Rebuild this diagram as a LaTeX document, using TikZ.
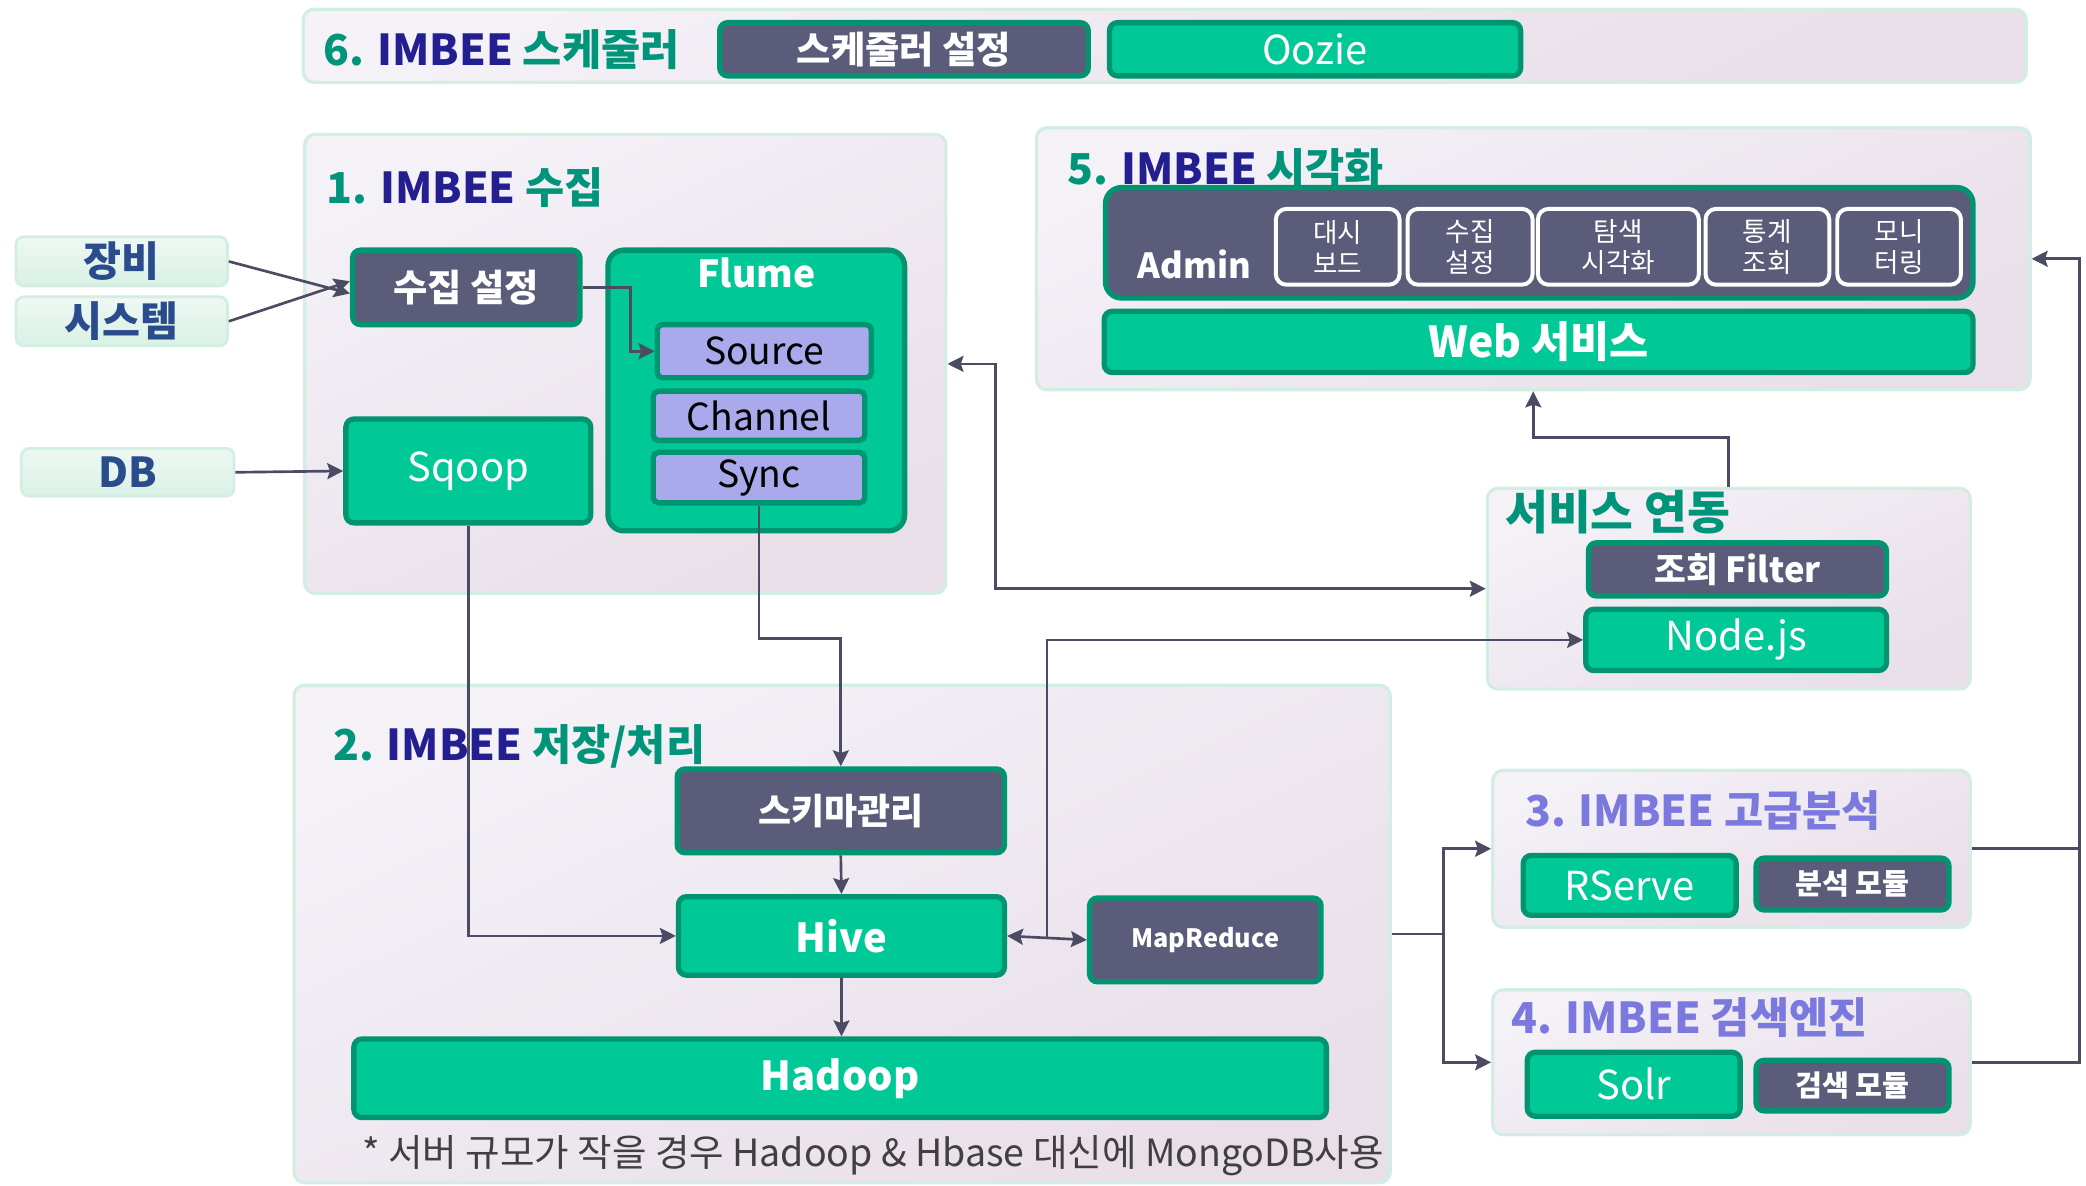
\documentclass[tikz,border=0pt]{standalone}
\usepackage{fontspec}
\setmainfont{Noto Sans CJK KR}
\usepackage{xcolor}
\definecolor{grn00}{HTML}{00C896}
\definecolor{grn01}{HTML}{009470}
\definecolor{dark00}{HTML}{5B5C7A}
\definecolor{lav00}{HTML}{A9A9EC}
\definecolor{lav01}{HTML}{7B79DE}
\definecolor{navy00}{HTML}{231F91}
\definecolor{teal00}{HTML}{00957A}
\definecolor{line00}{HTML}{4B4B63}
\definecolor{note00}{HTML}{404040}
\definecolor{sec00}{HTML}{F4F1F7}
\definecolor{sec01}{HTML}{E9DFE9}
\definecolor{secb}{HTML}{D2EEE2}
\definecolor{in00}{HTML}{EEF8F3}
\definecolor{in01}{HTML}{D9F1E5}
\definecolor{intxt}{HTML}{2B4C8C}
\usepackage{tikz}
\usetikzlibrary{calc}
\usetikzlibrary{positioning}
\usetikzlibrary{arrows.meta}
\tikzstyle{section} = [rectangle, rounded corners=4pt, draw=secb, line width=1.2pt, top color=sec00, bottom color=sec01, shading angle=25]
\tikzstyle{title} = [anchor=west, inner sep=0pt, text=teal00, font=\bfseries\fontsize{16pt}{18pt}\selectfont]
\tikzstyle{grn_box} = [rectangle, rounded corners=3pt, inner sep=1pt, draw=grn01, line width=2pt, fill=grn00, text=white, font=\fontsize{15pt}{17pt}\selectfont]
\tikzstyle{dark_box} = [rectangle, rounded corners=3pt, inner sep=1pt, draw=grn01, line width=2pt, fill=dark00, text=white, font=\bfseries\fontsize{13pt}{15pt}\selectfont]
\tikzstyle{sub_box} = [rectangle, rounded corners=2pt, inner sep=1pt, draw=grn01, line width=2pt, fill=lav00, text=black, font=\fontsize{14pt}{16pt}\selectfont]
\tikzstyle{menu_box} = [rectangle, rounded corners=4pt, inner sep=1pt, draw=white, line width=1.5pt, fill=dark00, text=white, align=center, font=\fontsize{10pt}{11.5pt}\selectfont]
\tikzstyle{in_box} = [rectangle, rounded corners=3pt, inner sep=1pt, draw=secb, line width=1pt, top color=in00, bottom color=in01, text=intxt, font=\bfseries\fontsize{15.5pt}{17pt}\selectfont]
\tikzstyle{conn} = [line width=1pt, line00, -{Stealth[length=6pt, width=6pt, inset=1pt]}]
\tikzstyle{conn2} = [conn, {Stealth[length=6pt, width=6pt, inset=1pt]}-{Stealth[length=6pt, width=6pt, inset=1pt]}]

\begin{document}
\begin{tikzpicture}[x=0.5pt, y=-0.5pt]
        \useasboundingbox (0,0) rectangle (1568,891);
        % sections
        \node (s6)[section, minimum width=647.5pt, minimum height=27.5pt] at (875.5,34.5) {};
        \node (s1)[section, minimum width=241pt, minimum height=172.5pt] at (470,273.5) {};
        \node (s5)[section, minimum width=373.5pt, minimum height=98.5pt] at (1152.5,194.5) {};
        \node (s7)[section, minimum width=181.5pt, minimum height=75.5pt] at (1299.5,442.5) {};
        \node (s2)[section, minimum width=412pt, minimum height=187pt] at (633,702) {};
        \node (s3)[section, minimum width=179.5pt, minimum height=59pt] at (1301.5,638) {};
        \node (s4)[section, minimum width=179.5pt, minimum height=54.5pt] at (1301.5,798.5) {};
        \node (t6)[title] at (243,37) {6. \textcolor{navy00}{IMBEE} 스케줄러};
        \node (t1)[title] at (245,141) {1. \textcolor{navy00}{IMBEE} 수집};
        \node (t5)[title] at (802,127) {5. \textcolor{navy00}{IMBEE} 시각화};
        \node (t7)[title, font=\bfseries\fontsize{17.5pt}{19pt}\selectfont] at (1131,385) {서비스 연동};
        \node (t2)[title] at (250,561) {2. \textcolor{navy00}{IMBEE} 저장/처리};
        \node (t3)[title, text=lav01] at (1146,609) {3. IMBEE 고급분석};
        \node (t4)[title, text=lav01] at (1136,765) {4. IMBEE 검색엔진};
        % 6. scheduler
        \node (sch_set)[dark_box, minimum width=138.5pt, minimum height=20pt, font=\bfseries\fontsize{14pt}{16pt}\selectfont] at (679.5,37) {스케줄러 설정};
        \node (oozie)[grn_box, minimum width=154.5pt, minimum height=20pt] at (988.5,37) {Oozie};
        % inputs
        \node (dev)[in_box, minimum width=79.5pt, minimum height=18.5pt] at (91.5,196.5) {장비};
        \node (sys)[in_box, minimum width=79.5pt, minimum height=18.5pt, below=3pt of dev] {시스템};
        \node (db)[in_box, minimum width=80pt, minimum height=18pt] at (96,355) {DB};
        % 1. collect
        \node (col_set)[dark_box, minimum width=85.5pt, minimum height=28pt, font=\bfseries\fontsize{14pt}{16pt}\selectfont] at (350.5,216) {수집 설정};
        \node (flume)[grn_box, minimum width=111.5pt, minimum height=105.5pt, rounded corners=6pt] at (568.5,293.5) {};
        \node (flume_lbl)[text=white, inner sep=0pt, font=\bfseries\fontsize{14pt}{16pt}\selectfont] at (568.5,205) {Flume};
        \node (src)[sub_box, minimum width=80.5pt, minimum height=20pt] at (574.5,264) {Source};
        \node (chan)[sub_box, minimum width=79.5pt, minimum height=18.5pt] at (570.5,312.5) {Channel};
        \node (sync)[sub_box, minimum width=79.5pt, minimum height=19pt] at (570.5,359) {Sync};
        \node (sqoop)[grn_box, minimum width=92pt, minimum height=39pt] at (352,354) {Sqoop};
        % 5. visual
        \node (admin)[dark_box, minimum width=326pt, minimum height=41.5pt, rounded corners=6pt] at (1157,182.5) {};
        \node (admin_lbl)[text=white, inner sep=0pt, font=\bfseries\fontsize{13pt}{15pt}\selectfont] at (898,199) {Admin};
        \node (m1)[menu_box, minimum width=46.5pt, minimum height=28.5pt] at (1005.5,185.5) {대시\\보드};
        \node (m2)[menu_box, minimum width=47pt, minimum height=28.5pt] at (1105,185.5) {수집\\설정};
        \node (m3)[menu_box, minimum width=60.5pt, minimum height=28.5pt] at (1216.5,185.5) {탐색\\시각화};
        \node (m4)[menu_box, minimum width=46.5pt, minimum height=28.5pt] at (1328.5,185.5) {통계\\조회};
        \node (m5)[menu_box, minimum width=46.5pt, minimum height=28.5pt] at (1427.5,185.5) {모니\\터링};
        \node (web)[grn_box, minimum width=326.5pt, minimum height=23pt, font=\bfseries\fontsize{16pt}{18pt}\selectfont] at (1156.5,257) {Web 서비스};
        % service link
        \node (filter)[dark_box, minimum width=112pt, minimum height=20pt] at (1306,428) {조회 Filter};
        \node (nodejs)[grn_box, minimum width=113pt, minimum height=23pt] at (1305,481) {Node.js};
        % 2. storage
        \node (schema)[dark_box, minimum width=123pt, minimum height=31.5pt, font=\bfseries\fontsize{13.5pt}{15pt}\selectfont] at (632,609.5) {스키마관리};
        \node (hive)[grn_box, minimum width=122.5pt, minimum height=29.5pt, font=\bfseries\fontsize{15pt}{17pt}\selectfont] at (632.5,703.5) {Hive};
        \node (mr)[dark_box, minimum width=87pt, minimum height=31.5pt, font=\bfseries\fontsize{9.5pt}{11pt}\selectfont] at (906,706.5) {MapReduce};
        \node (hadoop)[grn_box, minimum width=365.5pt, minimum height=29.5pt, font=\bfseries\fontsize{15pt}{17pt}\selectfont] at (631.5,810.5) {Hadoop};
        \node (note)[anchor=west, inner sep=0pt, text=note00, font=\fontsize{14.1pt}{16pt}\selectfont] at (272,869) {* 서버 규모가 작을 경우 Hadoop \& Hbase 대신에 MongoDB사용};
        % 3. / 4.
        \node (rserve)[grn_box, minimum width=80pt, minimum height=22.5pt] at (1225,665.5) {RServe};
        \node (anal)[dark_box, minimum width=72.5pt, minimum height=19.5pt, font=\bfseries\fontsize{11pt}{12pt}\selectfont] at (1392.5,664.5) {분석 모듈};
        \node (solr)[grn_box, minimum width=80pt, minimum height=24pt] at (1228,815) {Solr};
        \node (search)[dark_box, minimum width=72.5pt, minimum height=19pt, font=\bfseries\fontsize{11pt}{12pt}\selectfont] at (1392.5,816) {검색 모듈};
        % connectors
        \draw [conn] (dev.east) -- (col_set.183);
        \draw [conn] (sys.east) -- (col_set.177);
        \draw [conn] (db.east) -- (sqoop.west);
        \draw [conn] (col_set.east) -- ++(36,0) |- (src.west);
        \draw [conn] (sqoop.south) |- (hive.west);
        \draw [conn] (sync.south) -- ++(0,100) -| (schema.north);
        \draw [conn] (schema.south) -- (hive.north);
        \draw [conn] (hive.south) -- (hive.south |- hadoop.north);
        \draw [conn2] (hive.east) -- (mr.west);
        \coordinate (hj) at ($(hive.east)!0.5!(mr.west)$);
        \draw [conn] (hj) |- (nodejs.west);
        \draw [conn2] (s1.east) -- ++(36,0) |- (s7.west);
        \draw [conn] (s7.north) -- ++(0,-37) -| (s5.south);
        \draw [conn] (s2.east) -- ++(39,0) |- (s3.west);
        \draw [conn] (s2.east) -- ++(39,0) |- (s4.west);
        \draw [conn, -] (s3.east) -- ++(81,0);
        \draw [conn] (s4.east) -- ++(81,0) |- (s5.east);
\end{tikzpicture}
\end{document}
